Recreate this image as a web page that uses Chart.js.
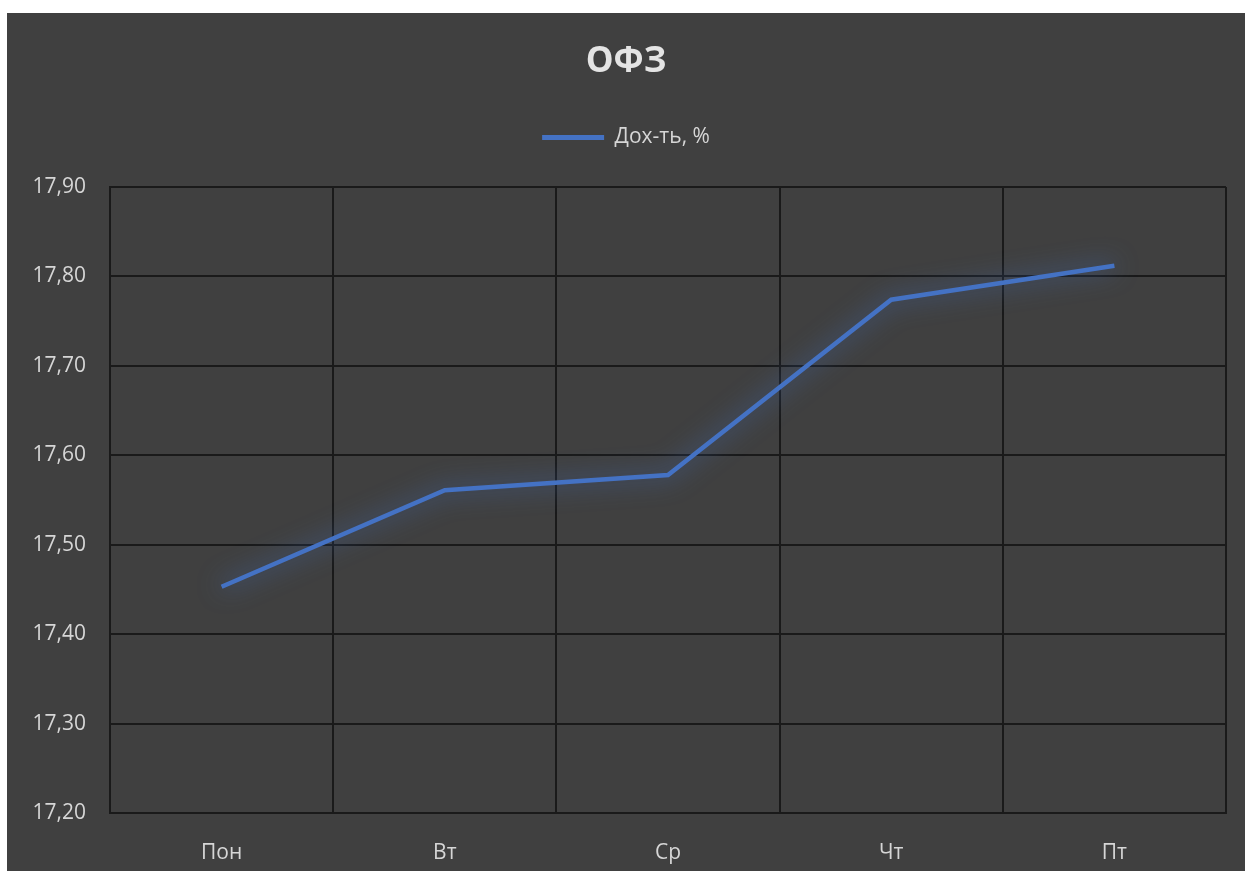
<!DOCTYPE html>
<html lang="ru">

<head>
    <meta charset="UTF-8">
    <meta name="viewport" content="width=device-width, initial-scale=1.0">
</head>

<body style="margin: 0; background: #ffffff; overflow: hidden;">
    <div class="chart-container" style="position: absolute; left: 7px; top: 13px; width: 1238px; height: 858px;">
        <canvas id="myChart"></canvas>
    </div>

    <script src="https://cdn.jsdelivr.net/npm/chart.js"></script>

    <script>
        const labels = ['Пон', 'Вт', 'Ср', 'Чт', 'Пт'];
        const yield_pct = [17.453, 17.561, 17.578, 17.774, 17.812];
        const y_min = 17.2;
        const y_max = 17.9;
        const y_step = 0.1;

        const blue = '#4472c4';
        const grid = '#1a1a1a';
        const text = '#d6d6d6';
        const font = "'Open Sans', 'Noto Sans', sans-serif";

        // dark chart background
        const bg = {
            id: 'bg',
            beforeDraw(chart) {
                const c = chart.ctx;
                c.save();
                c.fillStyle = '#404040';
                c.fillRect(0, 0, chart.width, chart.height);
                c.restore();
            }
        };

        // soft glow under the line
        const glow = {
            id: 'glow',
            beforeDatasetDraw(chart) {
                const c = chart.ctx;
                c.save();
                c.shadowColor = 'rgba(68, 114, 196, 0.9)';
                c.shadowBlur = 24;
            },
            afterDatasetDraw(chart) {
                chart.ctx.restore();
            }
        };

        // extra room under the legend
        const legendGap = {
            id: 'legendGap',
            beforeInit(chart) {
                const fit = chart.legend.fit;
                chart.legend.fit = function () {
                    fit.bind(chart.legend)();
                    this.height += 29;
                };
            }
        };

        const ctx = document.getElementById('myChart');

        window.myChart = new Chart(ctx, {
            type: 'line',
            data: {
                labels: labels,
                datasets: [{
                    label: 'Дох-ть, %',
                    data: yield_pct,
                    borderColor: blue,
                    backgroundColor: blue,
                    borderWidth: 4.5,
                    pointRadius: 0,
                    tension: 0
                }]
            },
            options: {
                responsive: true,
                maintainAspectRatio: false,
                animation: false,
                layout: { padding: { left: 19, right: 19, top: 0, bottom: 0 } },
                plugins: {
                    title: {
                        display: true,
                        text: 'ОФЗ',
                        color: '#e4e4e4',
                        font: { family: font, size: 35, weight: 'bold' },
                        padding: { top: 28, bottom: 34 }
                    },
                    legend: {
                        labels: {
                            color: text,
                            font: { family: font, size: 21 },
                            boxWidth: 62,
                            boxHeight: 5,
                            generateLabels(chart) {
                                return Chart.defaults.plugins.legend.labels.generateLabels(chart)
                                    .map(l => Object.assign(l, { lineWidth: 0 }));
                            }
                        }
                    },
                    tooltip: { enabled: false }
                },
                scales: {
                    x: {
                        offset: true,
                        grid: { offset: true, color: grid, lineWidth: 2, drawTicks: false },
                        border: { color: grid, width: 2 },
                        ticks: { color: text, font: { family: font, size: 21 }, padding: 27 },
                        afterFit(scale) { scale.height = 58; }
                    },
                    y: {
                        min: y_min,
                        max: y_max,
                        grid: { color: grid, lineWidth: 2, drawTicks: false },
                        border: { color: grid, width: 2 },
                        ticks: {
                            stepSize: y_step,
                            color: text,
                            font: { family: font, size: 21 },
                            padding: 24,
                            callback: v => v.toFixed(2).replace('.', ',')
                        },
                        afterFit(scale) { scale.width = 84; }
                    }
                }
            },
            plugins: [bg, glow, legendGap]
        });
    </script>
</body>

</html>
